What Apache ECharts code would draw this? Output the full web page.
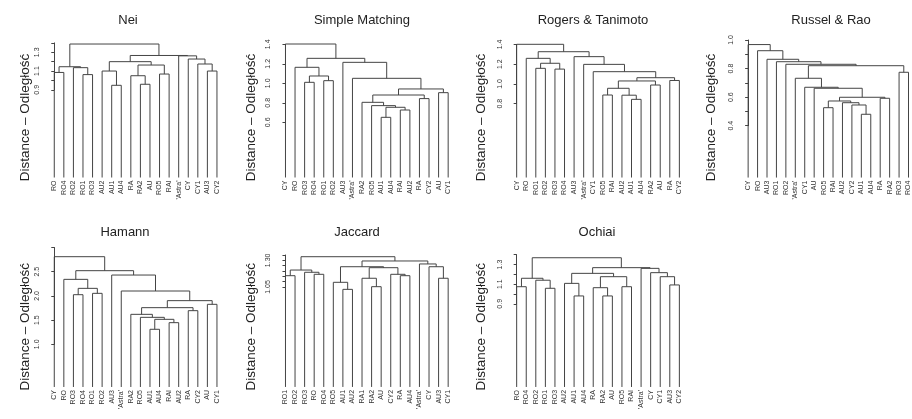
<!DOCTYPE html>
<html>
<head>
<meta charset="utf-8">
<script src="https://cdn.jsdelivr.net/npm/echarts@6.0.0/dist/echarts.min.js"></script>
<style>
html, body { margin: 0; background: #fff; }
#main { width: 912px; height: 419px; }
</style>
</head>
<body>
<div id="main"></div>
<script>
// leaf order and merges (a, b, height); numbers refer to earlier merges (1-based)
const neiLabels = ['RO', 'RO4', 'RO2', 'RO1', 'RO3', 'AU2', 'AU1', 'AU4', 'RA', 'RA2', 'AU', 'RO5', 'RAI', "'Astra'", 'CY', 'CY1', 'AU3', 'CY2']
const neiMerges = [
    ['RO', 'RO4', 1.085], ['RO1', 'RO3', 1.062], ['RO2', 2, 1.136], [1, 3, 1.146],
    ['AU1', 'AU4', 0.948], ['AU2', 5, 1.100], ['RA2', 'AU', 0.959], ['RA', 7, 1.050],
    ['RO5', 'RAI', 1.068], [8, 9, 1.164], [6, 10, 1.200], ['AU3', 'CY2', 1.100],
    ['CY1', 12, 1.175], ['CY', 13, 1.228], ["'Astra'", 14, 1.262], [11, 15, 1.266], [4, 16, 1.388]
]
const smLabels = ['CY', 'RO', 'RO3', 'RO4', 'RO1', 'RO2', 'AU3', "'Astra'", 'RA2', 'RO5', 'AU1', 'AU4', 'RAI', 'AU2', 'RA', 'CY2', 'AU', 'CY1']
const smMerges = [
    ['RO3', 'RO4', 1.010], ['RO1', 'RO2', 1.027], [1, 2, 1.075], ['RO', 3, 1.164],
    ['AU1', 'AU4', 0.651], ['RAI', 'AU2', 0.726], [5, 6, 0.754], ['RO5', 7, 0.771],
    ['RA2', 8, 0.805], ['RA', 'CY2', 0.843], [9, 10, 0.880], ['AU', 'CY1', 0.904],
    [11, 12, 0.942], ["'Astra'", 13, 1.051], ['AU3', 14, 1.215], [4, 15, 1.256], ['CY', 16, 1.403]
]
const rtLabels = ['CY', 'RO', 'RO1', 'RO2', 'RO3', 'RO4', 'AU3', "'Astra'", 'CY1', 'RO5', 'RAI', 'AU2', 'AU1', 'AU4', 'RA2', 'AU', 'RA', 'CY2']
const rtMerges = [
    ['RO1', 'RO2', 1.158], ['RO3', 'RO4', 1.150], [1, 2, 1.209], ['RO', 3, 1.259],
    ['RO5', 'RAI', 0.888], ['AU1', 'AU4', 0.844], ['AU2', 6, 0.886], [5, 7, 0.956],
    ['RA2', 'AU', 0.989], [8, 9, 1.030], ['RA', 'CY2', 1.035], [10, 11, 1.063],
    ['CY1', 12, 1.124], ["'Astra'", 13, 1.198], ['AU3', 14, 1.276], [4, 15, 1.326], ['CY', 16, 1.401]
]
const rrLabels = ['CY', 'RO', 'AU3', 'RO1', 'RO2', "'Astra'", 'CY1', 'AU', 'RO5', 'RAI', 'AU2', 'CY2', 'AU1', 'AU4', 'RA', 'RA2', 'RO3', 'RO4']
const rrMerges = [
    ['AU1', 'AU4', 0.480], ['CY2', 1, 0.545], ['AU2', 2, 0.561], ['RO5', 'RAI', 0.526],
    [4, 3, 0.573], ['RA', 'RA2', 0.592], [5, 6, 0.599], ['AU', 7, 0.662],
    ['CY1', 8, 0.669], ["'Astra'", 9, 0.732], ['RO3', 'RO4', 0.774], [10, 11, 0.820],
    ['RO2', 12, 0.830], ['RO1', 13, 0.848], ['AU3', 14, 0.865], ['RO', 15, 0.925], ['CY', 16, 0.968]
]
const hamLabels = ['CY', 'RO', 'RO3', 'RO4', 'RO1', 'RO2', 'AU3', "'Astra'", 'RA2', 'RO5', 'AU1', 'AU4', 'RAI', 'AU2', 'RA', 'CY2', 'AU', 'CY1']
const hamMerges = [
    ['RO3', 'RO4', 2.025], ['RO1', 'RO2', 2.053], [1, 2, 2.156], ['RO', 3, 2.342],
    ['AU1', 'AU4', 1.310], ['RAI', 'AU2', 1.447], [5, 6, 1.516], ['RO5', 7, 1.557],
    ['RA2', 8, 1.619], ['RA', 'CY2', 1.695], [9, 10, 1.757], ['AU', 'CY1', 1.826],
    [11, 12, 1.902], ["'Astra'", 13, 2.101], ['AU3', 14, 2.431], [4, 15, 2.521], ['CY', 16, 2.810]
]
const jacLabels = ['RO1', 'RO2', 'RO3', 'RO', 'RO4', 'RO5', 'AU1', 'AU2', 'RA1', 'RA2', 'AU', 'CY2', 'RA', 'AU4', "'Astra'", 'CY', 'AU3', 'CY1']
const jacMerges = [
    ['RO1', 'RO2', 1.156], ['RO', 'RO4', 1.169], ['RO3', 2, 1.188], [1, 3, 1.209],
    ['AU1', 'AU2', 1.028], ['RO5', 5, 1.094], ['RA2', 'AU', 1.053], ['RA1', 7, 1.132],
    ['RA', 'AU4', 1.156], ['CY2', 9, 1.169], [8, 10, 1.231], [6, 11, 1.240],
    ['AU3', 'CY1', 1.132], ['CY', 13, 1.240], ["'Astra'", 14, 1.266], [12, 15, 1.294], [4, 16, 1.334]
]
const ochLabels = ['RO', 'RO4', 'RO2', 'RO1', 'RO3', 'AU2', 'AU1', 'AU4', 'RA', 'RA2', 'AU', 'RO5', 'RAI', "'Astra'", 'CY', 'CY1', 'AU3', 'CY2']
const ochMerges = [
    ['RO', 'RO4', 1.074], ['RO1', 'RO3', 1.058], ['RO2', 2, 1.140], [1, 3, 1.160],
    ['AU1', 'AU4', 0.980], ['AU2', 5, 1.108], ['RA2', 'AU', 0.980], ['RA', 7, 1.064],
    ['RO5', 'RAI', 1.074], [8, 9, 1.176], [6, 10, 1.210], ['AU3', 'CY2', 1.092],
    ['CY1', 12, 1.176], ['CY', 13, 1.217], ["'Astra'", 14, 1.261], [11, 15, 1.268], [4, 16, 1.369]
]

const yName = 'Distance – Odległość'
const font = "'Liberation Sans', Arial, sans-serif"
const leafStep = 9.57

const panels = [
    { title: 'Nei', labels: neiLabels, merges: neiMerges, floor: -0.035, min: 0.9, max: 1.4, step: 0.1, shown: [0.9, 1.1, 1.3], digits: 1, left: 44.7, top: 42.9, height: 46.9, tx: 128, ty: 20, nx: 25.5, ny: 117.5 },
    { title: 'Simple Matching', labels: smLabels, merges: smMerges, floor: 0.034, min: 0.6, max: 1.4, step: 0.2, shown: [0.6, 0.8, 1.0, 1.2, 1.4], digits: 1, left: 275.9, top: 44.3, height: 78, tx: 362, ty: 20, nx: 251.7, ny: 117.5 },
    { title: 'Rogers & Tanimoto', labels: rtLabels, merges: rtMerges, floor: 0.053, min: 0.8, max: 1.4, step: 0.2, shown: [0.8, 1.0, 1.2, 1.4], digits: 1, left: 507.1, top: 44.4, height: 59.3, tx: 593, ty: 20, nx: 481.7, ny: 117.5 },
    { title: 'Russel & Rao', labels: rrLabels, merges: rrMerges, floor: 0.037, min: 0.4, max: 1.0, step: 0.1, shown: [0.4, 0.6, 0.8, 1.0], digits: 1, left: 738.7, top: 40, height: 85.7, tx: 831, ty: 20, nx: 711.7, ny: 117.5, width: 173.3 },
    { title: 'Hamann', labels: hamLabels, merges: hamMerges, floor: 0.118, min: 1.0, max: 3.0, step: 0.5, shown: [1.0, 1.5, 2.0, 2.5], digits: 1, left: 44.7, top: 247.5, height: 96.8, tx: 125, ty: 232.5, nx: 25.5, ny: 326.7 },
    { title: 'Jaccard', labels: jacLabels, merges: jacMerges, floor: 0.113, min: 1.05, max: 1.35, step: 0.05, shown: [1.05, 1.30], digits: 2, left: 275.9, top: 255, height: 32, tx: 357, ty: 232.5, nx: 251.7, ny: 326.7 },
    { title: 'Ochiai', labels: ochLabels, merges: ochMerges, floor: 0.053, min: 0.9, max: 1.4, step: 0.1, shown: [0.9, 1.1, 1.3], digits: 1, left: 507.1, top: 254.7, height: 49.1, tx: 597, ty: 232.5, nx: 481.7, ny: 326.7 }
]

// turn merge list into segments [xLeft, xRight, h, hLeft, hRight]
function buildSegments(labels, merges, floor) {
    const nodes = []
    const get = ref => typeof ref === 'number'
        ? nodes[ref - 1]
        : { x: labels.indexOf(ref), h: floor }
    const segs = []
    merges.forEach(m => {
        let a = get(m[0])
        let b = get(m[1])
        if (a.x > b.x) { const t = a; a = b; b = t }
        segs.push([a.x, b.x, m[2], a.h, b.h])
        nodes.push({ x: (a.x + b.x) / 2, h: m[2] })
    })
    return segs
}

const renderTree = function (params, api) {
    const xl = api.value(0), xr = api.value(1), h = api.value(2)
    const pts = [
        api.coord([xl, api.value(3)]),
        api.coord([xl, h]),
        api.coord([xr, h]),
        api.coord([xr, api.value(4)])
    ]
    return {
        type: 'polyline',
        shape: { points: pts },
        style: { stroke: '#444', lineWidth: 1, fill: null }
    }
}

const grid = [], xAxis = [], yAxis = [], series = [], graphic = []
panels.forEach((p, i) => {
    const width = p.width || 19 * leafStep
    grid.push({ left: p.left, top: p.top, width: width, height: p.height })
    const offset = (p.min - p.floor) / (p.max - p.min) * p.height
    xAxis.push({
        type: 'value', gridIndex: i, min: -1, max: width / leafStep - 1, interval: 1,
        offset: offset,
        axisLine: { show: false }, axisTick: { show: false }, splitLine: { show: false },
        axisLabel: {
            rotate: 90, fontSize: 7, margin: 3, color: '#333', fontFamily: font,
            showMaxLabel: false,
            formatter: v => (Number.isInteger(v) && v >= 0 && v < p.labels.length) ? p.labels[v] : ''
        }
    })
    yAxis.push({
        type: 'value', gridIndex: i, min: p.min, max: p.max, interval: p.step,
        offset: -1,
        axisLine: { show: true, lineStyle: { color: '#444', width: 1 } },
        axisTick: { show: true, length: 3, lineStyle: { color: '#444' } },
        splitLine: { show: false },
        axisLabel: {
            rotate: 90, fontSize: 7, margin: 5, color: '#333', fontFamily: font,
            showMinLabel: true, showMaxLabel: true,
            formatter: v => p.shown.some(s => Math.abs(s - v) < 1e-6) ? v.toFixed(p.digits) : ''
        }
    })
    series.push({
        type: 'custom', xAxisIndex: i, yAxisIndex: i, clip: false,
        renderItem: renderTree,
        data: buildSegments(p.labels, p.merges, p.floor)
    })
    graphic.push({
        type: 'text', x: p.tx, y: p.ty,
        style: { text: p.title, font: '13px ' + font, fill: '#222', textAlign: 'center', textVerticalAlign: 'middle' }
    })
    graphic.push({
        type: 'text', x: p.nx, y: p.ny, rotation: Math.PI / 2,
        style: { text: yName, font: '13.5px ' + font, fill: '#222', textAlign: 'center', textVerticalAlign: 'middle' }
    })
})

const chart = echarts.init(document.getElementById('main'))
chart.setOption({
    backgroundColor: '#fff',
    animation: false,
    grid, xAxis, yAxis, series, graphic
})
</script>
</body>
</html>
